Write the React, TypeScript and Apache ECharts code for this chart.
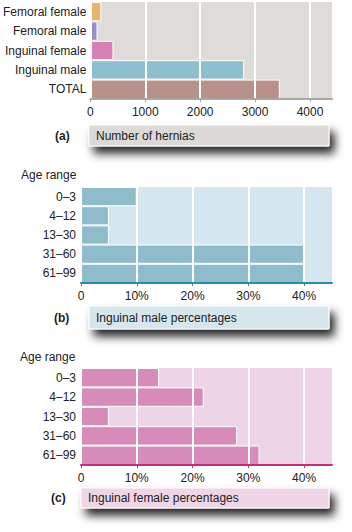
import React, { useEffect, useRef } from "react";
import * as echarts from "echarts";

// ---- data ----
const herniaCategories = ["Femoral female", "Femoral male", "Inguinal female", "Inguinal male", "TOTAL"];
const herniaCounts = [200, 130, 420, 2800, 3450];
const herniaMax = 4400;
const herniaInterval = 1000;

const ageRanges = ["0–3", "4–12", "13–30", "31–60", "61–99"];
const inguinalMalePct = [10, 5, 5, 40, 40];
const inguinalFemalePct = [14, 22, 5, 28, 32];
const pctMax = 45;
const pctInterval = 10;

// ---- styles ----
const herniaColors = ["#e6b46e", "#9b8dc6", "#d780b6", "#8dbfcf", "#b8918b"];
const FONT = "'Liberation Sans', Arial, Helvetica, sans-serif";

const pctFmt = (v: number) => (v === 0 ? "0" : v + "%");
const numFmt = (v: number) => String(v);

function makeXAxis(gridIndex: number, max: number, interval: number, lineColor: string, fmt: any) {
  return {
    type: "value",
    gridIndex,
    min: 0,
    max,
    interval,
    z: 5,
    axisLine: { show: true, onZero: false, lineStyle: { color: lineColor, width: 2 } },
    axisTick: { show: true, length: 3, lineStyle: { color: lineColor, width: 1 } },
    axisLabel: {
      showMaxLabel: false,
      margin: 7,
      fontSize: 12,
      color: "#222",
      fontFamily: FONT,
      formatter: fmt,
    },
    splitLine: { show: true, showMaxLine: false, lineStyle: { color: "#ffffff", width: 2 } },
  };
}

function makeYAxis(gridIndex: number, data: string[], margin: number) {
  return {
    type: "category",
    gridIndex,
    data,
    inverse: true,
    axisLine: { show: false },
    axisTick: { show: false },
    splitLine: { show: false },
    axisLabel: { margin, fontSize: 12, color: "#222", fontFamily: FONT },
  };
}

function caption(x: number, y: number, w: number, h: number, fill: string, label: string, tag: string, tagX: number) {
  return [
    {
      type: "rect",
      shape: { x, y, width: w, height: h },
      style: {
        fill,
        stroke: "#ffffff",
        lineWidth: 1,
        shadowBlur: 10,
        shadowOffsetX: 5,
        shadowOffsetY: 7,
        shadowColor: "rgba(0,0,0,0.85)",
      },
      z: 10,
    },
    {
      type: "text",
      x: x + 7,
      y: y + h / 2,
      style: { text: label, fontSize: 12, fill: "#222", fontFamily: FONT, verticalAlign: "middle", align: "left" },
      z: 11,
    },
    {
      type: "text",
      x: tagX,
      y: y + h / 2,
      style: { text: tag, fontSize: 12, fontWeight: "bold", fill: "#222", fontFamily: FONT, verticalAlign: "middle", align: "left" },
      z: 11,
    },
  ];
}

export default function App() {
  const ref = useRef<HTMLDivElement>(null);
  useEffect(() => {
    if (!ref.current) return;
    const chart = echarts.init(ref.current, null, { renderer: "svg" });
    const option: any = {
      animation: false,
      backgroundColor: "#ffffff",
      textStyle: { fontFamily: FONT },
      grid: [
        { left: 89, right: 20, top: 2, height: 97, show: true, backgroundColor: "#dedbd8", borderWidth: 0 },
        { left: 81, right: 20, top: 187, height: 96, show: true, backgroundColor: "#d4e7ee", borderWidth: 0 },
        { left: 81, right: 20, top: 368, height: 97, show: true, backgroundColor: "#eed5e6", borderWidth: 0 },
      ],
      xAxis: [
        makeXAxis(0, herniaMax, herniaInterval, "#a9a7a5", numFmt),
        makeXAxis(1, pctMax, pctInterval, "#2b8ca5", pctFmt),
        makeXAxis(2, pctMax, pctInterval, "#be2f7c", pctFmt),
      ],
      yAxis: [
        makeYAxis(0, herniaCategories, 4),
        makeYAxis(1, ageRanges, 5),
        makeYAxis(2, ageRanges, 5),
      ],
      series: [
        {
          type: "bar",
          xAxisIndex: 0,
          yAxisIndex: 0,
          barCategoryGap: "0%",
          data: herniaCounts.map((v, i) => ({
            value: v,
            itemStyle: { color: herniaColors[i] },
          })),
          itemStyle: { borderColor: "#ffffff", borderWidth: 1 },
        },
        {
          type: "bar",
          xAxisIndex: 1,
          yAxisIndex: 1,
          barCategoryGap: "0%",
          data: inguinalMalePct,
          itemStyle: { color: "#8fbccb", borderColor: "#ffffff", borderWidth: 1 },
        },
        {
          type: "bar",
          xAxisIndex: 2,
          yAxisIndex: 2,
          barCategoryGap: "0%",
          data: inguinalFemalePct,
          itemStyle: { color: "#d68bb9", borderColor: "#ffffff", borderWidth: 1 },
        },
      ],
      graphic: [
        { type: "text", x: 21, y: 175, style: { text: "Age range", fontSize: 12, fill: "#222", fontFamily: FONT, verticalAlign: "middle" } },
        { type: "text", x: 20, y: 357, style: { text: "Age range", fontSize: 12, fill: "#222", fontFamily: FONT, verticalAlign: "middle" } },
        ...caption(89, 125, 240, 21, "#dcd9d7", "Number of hernias", "(a)", 55),
        ...caption(89, 306, 240, 23, "#d5e6ec", "Inguinal male percentages", "(b)", 54),
        ...caption(81, 488, 248, 20, "#efd5e6", "Inguinal female percentages", "(c)", 51),
      ],
    };
    chart.setOption(option);
    return () => chart.dispose();
  }, []);
  return (
    <div
      ref={ref}
      style={{ position: "absolute", left: 0, top: 0, width: 352, height: 532 }}
    />
  );
}
